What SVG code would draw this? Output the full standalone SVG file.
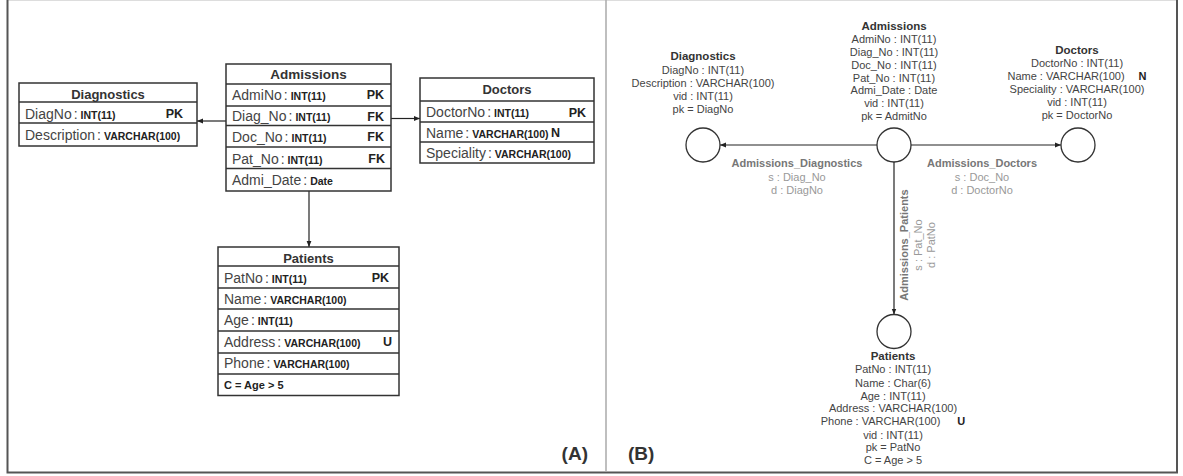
<svg xmlns="http://www.w3.org/2000/svg" width="1183" height="476" viewBox="0 0 1183 476">
<defs>
<style>
.frame{stroke:#555;stroke-width:2;fill:none}
.div{stroke:#aaa;stroke-width:1.5}
.tbl{fill:#fff;stroke:#333;stroke-width:1.5}
.sep{stroke:#333;stroke-width:1.6}
.tt{font-family:"Liberation Sans",Arial,sans-serif;font-weight:bold;font-size:13.5px;fill:#333;text-anchor:middle}
.fn{font-family:"Liberation Sans",Arial,sans-serif;font-size:14px;fill:#444}
.ty{font-weight:bold;font-size:10.5px;fill:#222}
.key{font-family:"Liberation Sans",Arial,sans-serif;font-weight:bold;font-size:12.5px;fill:#222}
.ck{font-family:"Liberation Sans",Arial,sans-serif;font-weight:bold;font-size:11px;fill:#222}
.conn{stroke:#222;stroke-width:1.2;fill:none}
.circ{fill:#fff;stroke:#333;stroke-width:1.3}
.nt{font-family:"Liberation Sans",Arial,sans-serif;font-weight:bold;font-size:11.5px;fill:#333;text-anchor:middle}
.na{font-family:"Liberation Sans",Arial,sans-serif;font-size:11px;fill:#444;text-anchor:middle}
.nb{font-weight:bold;fill:#222}
.et{font-family:"Liberation Sans",Arial,sans-serif;font-weight:bold;font-size:11px;fill:#777;text-anchor:middle}
.ea{font-family:"Liberation Sans",Arial,sans-serif;font-size:11px;fill:#999;text-anchor:middle}
.lab{font-family:"Liberation Sans",Arial,sans-serif;font-weight:bold;font-size:19px;fill:#333}
</style>
<marker id="arr" viewBox="0 0 10 10" refX="10" refY="5" markerWidth="6" markerHeight="6" markerUnits="userSpaceOnUse" orient="auto">
<path d="M0,1 L10,5 L0,9 z" fill="#222"/>
</marker>
</defs>
<rect width="1183" height="476" fill="#fff"/>
<g id="frame">
<line x1="7" y1="0.5" x2="1177" y2="0.5" stroke="#ddd" stroke-width="1"/>
<polyline class="frame" points="7.5,0 7.5,472.5 1177,472.5 1177,0"/>
<line class="div" x1="606" y1="0" x2="606" y2="472"/>
<text class="lab" x="588" y="460" text-anchor="end">(A)</text>
<text class="lab" x="628" y="460">(B)</text>
</g>
<g id="connectors">
<line class="conn" x1="226" y1="121" x2="197" y2="121" marker-end="url(#arr)"/>
<line class="conn" x1="391" y1="118.5" x2="420" y2="118.5" marker-end="url(#arr)"/>
<line class="conn" x1="309" y1="191" x2="309" y2="247" marker-end="url(#arr)"/>
<line class="conn" x1="877" y1="145" x2="720" y2="145" marker-end="url(#arr)"/>
<line class="conn" x1="911" y1="145" x2="1061" y2="145" marker-end="url(#arr)"/>
<line class="conn" x1="894" y1="162" x2="894" y2="314.5" marker-end="url(#arr)"/>
<text class="et" x="797" y="167">Admissions_Diagnostics</text>
<text class="ea" x="797" y="180.5">s : Diag_No</text>
<text class="ea" x="797" y="193.5">d : DiagNo</text>
<text class="et" x="982" y="167">Admissions_Doctors</text>
<text class="ea" x="982" y="180.5">s : Doc_No</text>
<text class="ea" x="982" y="193.5">d : DoctorNo</text>
<text class="et" transform="translate(908,245) rotate(-90)">Admissions_Patients</text>
<text class="ea" transform="translate(921.5,245) rotate(-90)">s : Pat_No</text>
<text class="ea" transform="translate(934.5,245) rotate(-90)">d : PatNo</text>
</g>
<g id="a-diagnostics">
<rect class="tbl" x="19" y="83" width="178" height="63"/>
<line class="sep" x1="19" y1="102" x2="197" y2="102"/>
<line class="sep" x1="19" y1="123" x2="197" y2="123"/>
<text class="tt" x="108" y="98.5" style="font-size:13px">Diagnostics</text>
<text class="fn" x="25" y="118.5">DiagNo<tspan dx="2">:</tspan><tspan class="ty" dx="3">INT(11)</tspan></text>
<text class="key" x="183" y="118" text-anchor="end">PK</text>
<text class="fn" x="25" y="140">Description<tspan dx="2">:</tspan><tspan class="ty" dx="3">VARCHAR(100)</tspan></text>
</g>
<g id="a-admissions">
<rect class="tbl" x="226" y="64" width="165" height="127"/>
<line class="sep" x1="226" y1="84" x2="391" y2="84"/>
<line class="sep" x1="226" y1="106" x2="391" y2="106"/>
<line class="sep" x1="226" y1="125.5" x2="391" y2="125.5"/>
<line class="sep" x1="226" y1="147" x2="391" y2="147"/>
<line class="sep" x1="226" y1="168.5" x2="391" y2="168.5"/>
<text class="tt" x="308.5" y="79">Admissions</text>
<text class="fn" x="232" y="99.5">AdmiNo<tspan dx="2">:</tspan><tspan class="ty" dx="3">INT(11)</tspan></text>
<text class="key" x="384" y="99" text-anchor="end">PK</text>
<text class="fn" x="232" y="121">Diag_No<tspan dx="2">:</tspan><tspan class="ty" dx="3">INT(11)</tspan></text>
<text class="key" x="384" y="120.5" text-anchor="end">FK</text>
<text class="fn" x="232" y="141.5">Doc_No<tspan dx="2">:</tspan><tspan class="ty" dx="3">INT(11)</tspan></text>
<text class="key" x="384" y="141" text-anchor="end">FK</text>
<text class="fn" x="232" y="163.5">Pat_No<tspan dx="2">:</tspan><tspan class="ty" dx="3">INT(11)</tspan></text>
<text class="key" x="385" y="163" text-anchor="end">FK</text>
<text class="fn" x="232" y="184.5">Admi_Date<tspan dx="2">:</tspan><tspan class="ty" dx="3">Date</tspan></text>
</g>
<g id="a-doctors">
<rect class="tbl" x="420" y="78" width="174" height="85"/>
<line class="sep" x1="420" y1="101" x2="594" y2="101"/>
<line class="sep" x1="420" y1="122" x2="594" y2="122"/>
<line class="sep" x1="420" y1="142" x2="594" y2="142"/>
<text class="tt" x="507" y="94" style="font-size:13px">Doctors</text>
<text class="fn" x="426" y="117">DoctorNo<tspan dx="2">:</tspan><tspan class="ty" dx="3">INT(11)</tspan></text>
<text class="key" x="586" y="116.5" text-anchor="end">PK</text>
<text class="fn" x="426" y="137.5">Name<tspan dx="2">:</tspan><tspan class="ty" dx="3">VARCHAR(100)</tspan></text>
<text class="key" x="551" y="137">N</text>
<text class="fn" x="426" y="158">Speciality<tspan dx="2">:</tspan><tspan class="ty" dx="3">VARCHAR(100)</tspan></text>
</g>
<g id="a-patients">
<rect class="tbl" x="218" y="247" width="181" height="148.5"/>
<line class="sep" x1="218" y1="266" x2="399" y2="266"/>
<line class="sep" x1="218" y1="288" x2="399" y2="288"/>
<line class="sep" x1="218" y1="309" x2="399" y2="309"/>
<line class="sep" x1="218" y1="331" x2="399" y2="331"/>
<line class="sep" x1="218" y1="353" x2="399" y2="353"/>
<line class="sep" x1="218" y1="374" x2="399" y2="374"/>
<text class="tt" x="308.5" y="262.5" style="font-size:13px">Patients</text>
<text class="fn" x="224" y="282.5">PatNo<tspan dx="2">:</tspan><tspan class="ty" dx="3">INT(11)</tspan></text>
<text class="key" x="389" y="282" text-anchor="end">PK</text>
<text class="fn" x="224" y="304">Name<tspan dx="2">:</tspan><tspan class="ty" dx="3">VARCHAR(100)</tspan></text>
<text class="fn" x="224" y="325">Age<tspan dx="2">:</tspan><tspan class="ty" dx="3">INT(11)</tspan></text>
<text class="fn" x="224" y="346.5">Address<tspan dx="2">:</tspan><tspan class="ty" dx="3">VARCHAR(100)</tspan></text>
<text class="key" x="383" y="346">U</text>
<text class="fn" x="224" y="368">Phone<tspan dx="2">:</tspan><tspan class="ty" dx="3">VARCHAR(100)</tspan></text>
<text class="ck" x="224" y="388.5">C = Age &gt; 5</text>
</g>
<g id="b-diagnostics">
<circle class="circ" cx="703" cy="145" r="17"/>
<text class="nt" x="703" y="59.5">Diagnostics</text>
<text class="na" x="703" y="73.5">DiagNo : INT(11)</text>
<text class="na" x="703" y="86.5">Description : VARCHAR(100)</text>
<text class="na" x="703" y="99.5">vid : INT(11)</text>
<text class="na" x="703" y="112.5">pk = DiagNo</text>
</g>
<g id="b-admissions">
<circle class="circ" cx="894" cy="145" r="17"/>
<text class="nt" x="894" y="29.5">Admissions</text>
<text class="na" x="894" y="43">AdmiNo : INT(11)</text>
<text class="na" x="894" y="56">Diag_No : INT(11)</text>
<text class="na" x="894" y="68.5">Doc_No : INT(11)</text>
<text class="na" x="894" y="81.5">Pat_No : INT(11)</text>
<text class="na" x="894" y="94">Admi_Date : Date</text>
<text class="na" x="894" y="107">vid : INT(11)</text>
<text class="na" x="894" y="120">pk = AdmitNo</text>
</g>
<g id="b-doctors">
<circle class="circ" cx="1078" cy="145" r="17"/>
<text class="nt" x="1077" y="53.5">Doctors</text>
<text class="na" x="1077" y="66.5">DoctorNo : INT(11)</text>
<text class="na" x="1077" y="79.5">Name : VARCHAR(100)<tspan class="nb" dx="14">N</tspan></text>
<text class="na" x="1077" y="92.5">Speciality : VARCHAR(100)</text>
<text class="na" x="1077" y="105.5">vid : INT(11)</text>
<text class="na" x="1077" y="118.5">pk = DoctorNo</text>
</g>
<g id="b-patients">
<circle class="circ" cx="894" cy="331.5" r="17"/>
<text class="nt" x="893" y="360">Patients</text>
<text class="na" x="893" y="373">PatNo : INT(11)</text>
<text class="na" x="893" y="386.5">Name : Char(6)</text>
<text class="na" x="893" y="399.5">Age : INT(11)</text>
<text class="na" x="893" y="412">Address : VARCHAR(100)</text>
<text class="na" x="893" y="425">Phone : VARCHAR(100)<tspan class="nb" dx="17">U</tspan></text>
<text class="na" x="893" y="438.5">vid : INT(11)</text>
<text class="na" x="893" y="451">pk = PatNo</text>
<text class="na" x="893" y="464">C = Age &gt; 5</text>
</g>
</svg>
